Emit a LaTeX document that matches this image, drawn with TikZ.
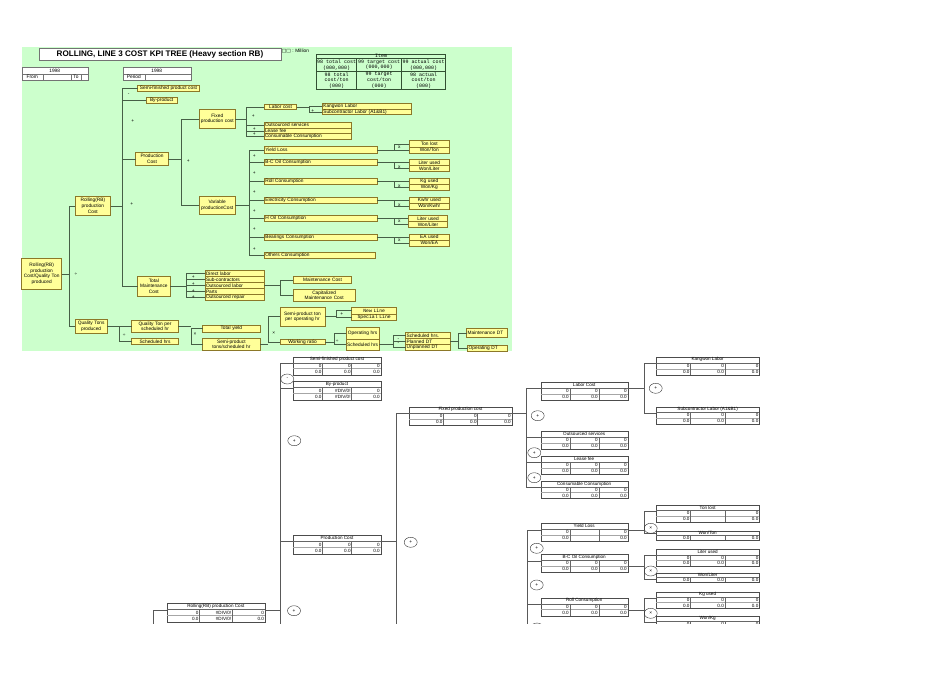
\documentclass[tikz,border=0pt]{standalone}
\usepackage{fontspec}
\setmainfont{Liberation Sans}
\newfontfamily\monof{Liberation Mono}
\newfontfamily\symf{DejaVu Sans}
\usetikzlibrary{shapes.geometric}
\definecolor{bggreen}{RGB}{204,255,204}
\definecolor{boxy}{RGB}{255,255,153}
\definecolor{boxb}{RGB}{140,120,40}
\definecolor{conn}{RGB}{70,95,70}
\definecolor{itemb}{RGB}{50,80,50}
\tikzset{
 ft/.style={font=\fontsize{4.8}{5.6}\selectfont},
 yb/.style={draw=boxb, fill=boxy, line width=0.5pt, inner ysep=0pt, inner xsep=1pt, outer sep=0pt, ft},
 cl/.style={draw=conn, line width=0.6pt},
 op/.style={inner sep=0pt, font=\fontsize{4.8}{5}\selectfont},
 wb/.style={draw=black!55, fill=white, line width=0.4pt, inner sep=0pt, outer sep=0pt, ft},
 ib/.style={draw=itemb, line width=0.5pt, inner sep=0pt, outer sep=0pt, align=center, font=\monof\fontsize{5}{5.6}\selectfont},
 tframe/.style={draw=black!70, line width=0.4pt, fill=white, inner sep=0pt, outer sep=0pt},
 tsep/.style={draw=black!60, line width=0.35pt},
 tsep2/.style={draw=black!35, line width=0.8pt},
 tv/.style={inner sep=0pt, font=\fontsize{4.6}{5}\selectfont},
 bl/.style={draw=black!65, line width=0.5pt},
 circ/.style={draw=black!80, ellipse, line width=0.4pt, minimum width=13pt, minimum height=10pt, inner sep=0pt, font=\fontsize{4.8}{5}\selectfont},
}
% yellow box: name, x1, y1, x2, y2, align, text
\newcommand\ybox[7]{%
 \pgfmathsetmacro\bw{#4-#2}\pgfmathsetmacro\bh{#5-#3}\pgfmathsetmacro\tw{#4-#2-2}%
 \node[yb, minimum width=\bw pt, minimum height=\bh pt, text width=\tw pt, align=#6] (#1) at ({(#2+#4)/2},{(#3+#5)/2}) {#7};}
% generic rectangle node: style, name, x1, y1, x2, y2, text
\newcommand\rbox[7]{%
 \pgfmathsetmacro\bw{#5-#3}\pgfmathsetmacro\bh{#6-#4}%
 \node[#1, minimum width=\bw pt, minimum height=\bh pt] (#2) at ({(#3+#5)/2},{(#4+#6)/2}) {#7};}
% table row values
\newcommand\trowh[7]{%
 \pgfmathsetmacro\cca{#2+(#3-#2)/3}\pgfmathsetmacro\ccb{#2+2*(#3-#2)/3}%
 \node[tv, anchor=east] (#1a) at ({\cca-0.8},{#4}) {#5};
 \node[tv, anchor=east] (#1b) at ({\ccb-0.8},{#4}) {#6};
 \node[tv, anchor=east] (#1c) at ({#3-0.8},{#4}) {#7};}
% table: name, x1, y1, x2, y2, title, row1, row2
\newcommand\tbl[8]{%
 \if\relax\detokenize{#8}\relax\def\nr{1}\else\def\nr{2}\fi
 \pgfmathsetmacro\rh{(#5-#3)/(\nr+1)}%
 \pgfmathsetmacro\ca{#2+(#4-#2)/3}\pgfmathsetmacro\cb{#2+2*(#4-#2)/3}%
 \pgfmathsetmacro\tw{#4-#2}\pgfmathsetmacro\th{#5-#3}%
 \node[tframe, minimum width=\tw pt, minimum height=\th pt] (#1) at ({(#2+#4)/2},{(#3+#5)/2}) {};
 \node[tv] (#1-t) at ({(#2+#4)/2},{#3+\rh/2}) {#6};
 \draw[tsep] (#2,{#3+\rh}) -- (#4,{#3+\rh});
 \ifnum\nr>1 \draw[tsep2] (#2,{#3+2*\rh}) -- (#4,{#3+2*\rh});\fi
 \draw[tsep] (\ca,{#3+\rh}) -- (\ca,#5) (\cb,{#3+\rh}) -- (\cb,#5);
 \coordinate (#1-w) at (#2,{#3+6.5});
 \coordinate (#1-e) at (#4,{#3+6.5});
 \trowh{#1-r1}{#2}{#4}{#3+1.5*\rh}#7
 \if\relax\detokenize{#8}\relax\else\trowh{#1-r2}{#2}{#4}{#3+2.5*\rh}#8\fi
}
\begin{document}
\begin{tikzpicture}[x=1pt,y=-1pt]
\useasboundingbox (0,0) rectangle (950,672);
\fill[white] (0,0) rectangle (950,672);
\fill[bggreen] (22,47) rectangle (512,351);

% ---------- header ----------
\rbox{wb}{title}{39.3}{48.5}{280.7}{60}{\fontsize{8.1}{9}\selectfont\bfseries ROLLING, LINE 3 COST KPI TREE (Heavy section RB)}
\node[op, anchor=west] (unit) at (281.7,51.3) {{\symf □□} : Million};

\rbox{wb}{da}{21.7}{66.7}{87.7}{74.5}{1998}
\rbox{wb}{dfrom}{21.7}{74.5}{42.7}{80}{From}
\rbox{wb}{dfv}{42.7}{74.5}{71}{80}{}
\rbox{wb}{dto}{71}{74.5}{81}{80}{To}
\rbox{wb}{dtv}{81}{74.5}{87.7}{80}{}
\rbox{wb}{pa}{122.7}{66.7}{190.7}{74.5}{1998}
\rbox{wb}{pper}{122.7}{74.5}{145}{80}{Period}
\rbox{wb}{ppv}{145}{74.5}{190.7}{80}{}

\rbox{ib}{item}{316.7}{54}{445.7}{58.3}{Item}
\rbox{ib}{i11}{316.7}{58.3}{356.7}{71.7}{98 total cost\\(000,000)}
\rbox{ib}{i12}{356.7}{58.3}{401.7}{71.7}{99 target cost\\(000,000)}
\rbox{ib}{i13}{401.7}{58.3}{445.7}{71.7}{99 actual cost\\(000,000)}
\rbox{ib}{i21}{316.7}{71.7}{356.7}{89}{98 total\\cost/ton\\(000)}
\rbox{ib}{i22}{356.7}{71.7}{401.7}{89}{99 target\\cost/ton\\(000)}
\rbox{ib}{i23}{401.7}{71.7}{445.7}{89}{98 actual\\cost/ton\\(000)}

% ---------- trunk coordinates ----------
\coordinate (T0) at (69.3,0);
\coordinate (T1) at (122.3,0);
\coordinate (T2) at (181,0);
\coordinate (T3) at (246,0);
\coordinate (T4) at (309,0);
\coordinate (T5) at (249.3,0);
\coordinate (TX) at (394,0);
\coordinate (T6) at (186.7,0);
\coordinate (T7) at (280,0);
\coordinate (T8) at (119.3,0);
\coordinate (T9) at (191,0);
\coordinate (T10) at (268.3,0);
\coordinate (T11) at (336.7,0);
\coordinate (T12) at (334.3,0);
\coordinate (T13) at (393.3,0);
\coordinate (T14) at (458.3,0);

% ---------- yellow boxes ----------
\ybox{root}{21.7}{258.3}{61.7}{289.3}{center}{Rolling(RB)\\production\\Cost/Quality Ton\\produced}
\ybox{rollc}{75}{196.7}{110.7}{215}{center}{Rolling(RB)\\production\\Cost}
\ybox{qtons}{75}{319.3}{107.3}{333.3}{center}{Quality Tons\\produced}
\ybox{sfpc}{137.7}{85}{199.3}{91}{center}{Semi-finished product cost}
\ybox{byp}{146}{97.7}{177.3}{103.3}{center}{By-product}
\ybox{prodc}{135.7}{152.7}{168.3}{165}{center}{Production\\Cost}
\ybox{tmc}{137.7}{276}{170}{296}{center}{Total\\Maintenance\\Cost}
\ybox{fixc}{199.3}{109.3}{235.3}{128.3}{center}{Fixed\\production cost}
\ybox{varc}{199.3}{196.7}{235}{214.3}{center}{Variable\\productionCost}
\ybox{labc}{264.3}{104.3}{296.7}{109.3}{center}{Labor cost}
\ybox{kang}{322.3}{103.7}{411}{109.2}{left}{Kangwon Labor}
\ybox{subl}{322.3}{109.2}{411}{114.7}{left}{Subcontractor Labor (A1\&B1)}
\ybox{outs}{264}{122.3}{351.3}{128}{left}{Outsourced services}
\ybox{lease}{264}{128}{351.3}{133.7}{left}{Lease fee}
\ybox{cons}{264}{133.7}{351.3}{139.3}{left}{Consumable Consumption}
\ybox{yld}{264.3}{146.7}{377.3}{153.3}{left}{Yield Loss}
\ybox{tonl}{409.3}{140.7}{449.3}{147}{center}{Ton lost}
\ybox{wton}{409.3}{147}{449.3}{153.3}{center}{Won/Ton}
\ybox{bco}{264.3}{159.3}{377.3}{165.7}{left}{B-C Oil Consumption}
\ybox{litu}{409.3}{159.3}{449.3}{165.5}{center}{Liter used}
\ybox{wlit}{409.3}{165.5}{449.3}{171.7}{center}{Won/Liter}
\ybox{roll}{264.3}{178.3}{377.3}{184.3}{left}{Roll Consumption}
\ybox{kgu}{409.3}{178.3}{449.3}{184.3}{center}{Kg used}
\ybox{wkg}{409.3}{184.3}{449.3}{190.3}{center}{Won/Kg}
\ybox{elec}{264.3}{197}{377.3}{203}{left}{Electricity Consumption}
\ybox{kwh}{409.3}{197}{449.3}{203}{center}{Kwhr used}
\ybox{wkwh}{409.3}{203}{449.3}{209}{center}{Won/Kwhr}
\ybox{hoil}{264.3}{215.7}{377.3}{221.7}{left}{H Oil Consumption}
\ybox{litu2}{408.3}{215.7}{447.7}{221.7}{center}{Liter used}
\ybox{wlit2}{408.3}{221.7}{447.7}{227.7}{center}{Won/Liter}
\ybox{bear}{264.3}{234}{377.3}{240}{left}{Bearings Consumption}
\ybox{eau}{409.3}{234}{449.3}{240}{center}{EA used}
\ybox{wea}{409.3}{240}{449.3}{246}{center}{Won/EA}
\ybox{oth}{264.3}{252.3}{375.7}{258.3}{left}{Others Consumption}
\ybox{m1}{205}{270.7}{264.3}{276.7}{left}{Direct labor}
\ybox{m2}{205}{276.7}{264.3}{282.7}{left}{Sub-contractors}
\ybox{m3}{205}{282.7}{264.3}{288.7}{left}{Outsourced labor}
\ybox{m4}{205}{288.7}{264.3}{294.7}{left}{Parts}
\ybox{m5}{205}{294.7}{264.3}{300.7}{left}{Outsourced repair}
\ybox{mc}{293.3}{276.7}{351.7}{283.3}{center}{Maintenance Cost}
\ybox{cmc}{293.3}{289.3}{355}{301}{center}{Capitalized\\Maintenance Cost}
\ybox{qtph}{131.7}{320}{178.3}{332.7}{center}{Quality Ton per\\scheduled hr}
\ybox{schh}{131.7}{338.3}{178.3}{344.3}{center}{Scheduled hrs}
\ybox{tyld}{202.7}{325.3}{260}{332}{center}{Total yield}
\ybox{spt}{202.7}{338.3}{260}{350}{center}{Semi-product\\tons/scheduled hr}
\ybox{spop}{280}{307.3}{325}{326}{center}{Semi-product ton\\per operating hr}
\ybox{wr}{280}{339.7}{325}{344.3}{center}{Working ratio}
\ybox{newl}{351.7}{307.7}{396.7}{313.8}{center}{\monof New Line}
\ybox{spel}{351.7}{313.8}{396.7}{320}{center}{\monof Special Line}
\ybox{oph}{346}{327.3}{379.3}{338.8}{center}{Operating hrs}
\ybox{sch2}{346}{338.8}{379.3}{350.3}{center}{Scheduled hrs}
\ybox{sch3}{405.7}{332.3}{450}{338.3}{left}{Scheduled hrs.}
\ybox{pdt}{405.7}{338.3}{450}{344.3}{left}{Planned DT}
\ybox{udt}{405.7}{344.3}{450}{350.3}{left}{Unplanned DT}
\ybox{mdt}{466.7}{328.3}{507}{337.7}{left}{Maintenance DT}
\ybox{odt}{467.7}{345}{507}{351.7}{left}{Operating DT}

% ---------- connectors (green tree) ----------
\draw[cl] (root.east) -- (root.east -| T0);
\draw[cl] (rollc.west) -- (rollc.west -| T0) -- (qtons.west -| T0) -- (qtons.west);

\draw[cl] (rollc.east) -- (rollc.east -| T1);
\draw[cl] (sfpc.west) -- (sfpc.west -| T1) -- (tmc.west -| T1) -- (tmc.west);
\draw[cl] (byp.west -| T1) -- (byp.west);
\draw[cl] (prodc.west -| T1) -- (prodc.west);

\draw[cl] (prodc.east) -- (prodc.east -| T2);
\draw[cl] (fixc.west) -- (fixc.west -| T2) -- (varc.west -| T2) -- (varc.west);

\draw[cl] (fixc.east) -- (fixc.east -| T3);
\draw[cl] (labc.west) -- (labc.west -| T3) -- (cons.west -| T3) -- (cons.west);
\draw[cl] (outs.west -| T3) -- (outs.west);
\draw[cl] (lease.west -| T3) -- (lease.west);

\draw[cl] (labc.east) -- (labc.east -| T4);
\draw[cl] (kang.west) -- (kang.west -| T4) -- (subl.west -| T4) -- (subl.west);

\draw[cl] (varc.east) -- (varc.east -| T5);
\draw[cl] (yld.west) -- (yld.west -| T5) -- (oth.west -| T5) -- (oth.west);
\foreach \c in {bco,roll,elec,hoil,bear} {\draw[cl] (\c.west -| T5) -- (\c.west);}

\foreach \p/\a/\b in {yld/tonl/wton, bco/litu/wlit, roll/kgu/wkg, elec/kwh/wkwh, hoil/litu2/wlit2, bear/eau/wea}
 {\draw[cl] (\p.east) -- (\p.east -| TX);
  \draw[cl] (\a.west) -- (\a.west -| TX) -- (\b.west -| TX) -- (\b.west);}

\draw[cl] (tmc.east) -- (tmc.east -| T6);
\draw[cl] (m1.west) -- (m1.west -| T6) -- (m5.west -| T6) -- (m5.west);
\foreach \c in {m2,m3,m4} {\draw[cl] (\c.west -| T6) -- (\c.west);}

\draw[cl] (m3.east) -- (m3.east -| T7);
\draw[cl] (mc.west) -- (mc.west -| T7) -- (cmc.west -| T7) -- (cmc.west);

\draw[cl] (qtons.east) -- (qtons.east -| T8);
\draw[cl] (qtph.west) -- (qtph.west -| T8) -- (schh.west -| T8) -- (schh.west);

\draw[cl] (qtph.east) -- (qtph.east -| T9);
\draw[cl] (tyld.west) -- (tyld.west -| T9) -- (spt.west -| T9) -- (spt.west);

\draw[cl] (spt.east) -- (spt.east -| T10);
\draw[cl] (spop.west) -- (spop.west -| T10) -- (wr.west -| T10) -- (wr.west);

\draw[cl] (spop.east) -- (spop.east -| T11);
\draw[cl] (newl.west) -- (newl.west -| T11) -- (spel.west -| T11) -- (spel.west);

\draw[cl] (wr.east) -- (wr.east -| T12);
\draw[cl] (oph.west) -- (oph.west -| T12) -- (sch2.west -| T12) -- (sch2.west);

\draw[cl] (sch2.east) -- (sch2.east -| T13);
\draw[cl] (sch3.west) -- (sch3.west -| T13) -- (udt.west -| T13) -- (udt.west);
\draw[cl] (pdt.west -| T13) -- (pdt.west);

\draw[cl] (pdt.east) -- (pdt.east -| T14);
\draw[cl] (mdt.west) -- (mdt.west -| T14) -- (odt.west -| T14) -- (odt.west);

% ---------- operators (green tree) ----------
\node[op] (o1) at (76,273.7) {÷};
\node[op] (o2) at (128.7,95) {-};
\node[op] (o3) at (132.7,121.3) {+};
\node[op] (o4) at (131.7,204) {+};
\node[op] (o5) at (188.3,161) {+};
\node[op] (o6) at (253.3,115.7) {+};
\node[op] (o7) at (254.3,129) {+};
\node[op] (o8) at (254.3,134.5) {+};
\node[op] (o9) at (312.7,111.3) {+};
\foreach \y [count=\i] in {156,173.3,192.3,210.7,229.3,249} {\node[op] (ov\i) at (254.3,\y) {+};}
\foreach \y [count=\i] in {147.7,167.5,186,205,221.7,240.7} {\node[op] (ox\i) at (399.3,\y) {x};}
\foreach \y [count=\i] in {277,283.7,290.7,296.7} {\node[op] (om\i) at (193.3,\y) {+};}
\node[op] (o10) at (124.3,335.3) {÷};
\node[op] (o11) at (195,334) {×};
\node[op] (o12) at (273.7,332.7) {×};
\node[op] (o13) at (341.7,314) {+};
\node[op] (o14) at (337.3,340.7) {÷};
\node[op] (o15) at (398.3,339.3) {-};
\node[op] (o16) at (398.3,344) {-};

% ---------- bottom tree (tables) ----------
\begin{scope}
\clip (0,352) rectangle (950,623);
\coordinate (B0) at (153.3,0);
\coordinate (B1) at (280.7,0);
\coordinate (B2) at (396,0);
\coordinate (B3) at (526.7,0);
\coordinate (B4) at (644.3,0);
\coordinate (B5) at (527.3,0);

\tbl{sf}{293.3}{356.7}{380.7}{374.7}{Semi-finished product cost}{{0}{0}{0}}{{0.0}{0.0}{0.0}}
\tbl{bp}{293.3}{381.3}{380.7}{400}{By-product}{{0}{\#DIV/0!}{0}}{{0.0}{\#DIV/0!}{0.0}}
\tbl{pc}{293.3}{535}{380.7}{554.3}{Production Cost}{{0}{0}{0}}{{0.0}{0.0}{0.0}}
\tbl{rc}{166.7}{603.3}{265}{622}{Rolling(RB) production Cost}{{0}{\#DIV/0!}{0}}{{0.0}{\#DIV/0!}{0.0}}
\tbl{fx}{409.3}{406.7}{511.7}{425}{Fixed production cost}{{0}{0}{0}}{{0.0}{0.0}{0.0}}
\tbl{lc}{540.7}{381.7}{627.7}{400}{Labor Cost}{{0}{0}{0}}{{0.0}{0.0}{0.0}}
\tbl{os}{540.7}{430.7}{627.7}{449.3}{Outsourced services}{{0}{0}{0}}{{0.0}{0.0}{0.0}}
\tbl{lf}{540.7}{455.7}{627.7}{474.3}{Lease fee}{{0}{0}{0}}{{0.0}{0.0}{0.0}}
\tbl{cc}{540.7}{481}{627.7}{498.3}{Consumable Consumption}{{0}{0}{0}}{{0.0}{0.0}{0.0}}
\tbl{kl}{656}{356.7}{759.3}{375}{Kangwon Labor}{{0}{0}{0}}{{0.0}{0.0}{0.0}}
\tbl{sl}{656}{406.7}{759.3}{424}{Subcontractor Labor (A1\&B1)}{{0}{0}{0}}{{0.0}{0.0}{0.0}}
\tbl{yl}{540.7}{523.3}{627.7}{541}{Yield Loss}{{0}{}{0}}{{0.0}{}{0.0}}
\tbl{tl}{656}{505}{759.3}{521.7}{Ton lost}{{0}{}{0}}{{0.0}{}{0.0}}
\tbl{wt}{656}{530.7}{759.3}{540}{Won/Ton}{{0.0}{}{0.0}}{}
\tbl{bc}{540.7}{554.3}{627.7}{572.3}{B-C Oil Consumption}{{0}{0}{0}}{{0.0}{0.0}{0.0}}
\tbl{lu}{656}{549}{759.3}{566}{Liter used}{{0}{0}{0}}{{0.0}{0.0}{0.0}}
\tbl{wl}{656}{572.7}{759.3}{582.3}{Won/Liter}{{0.0}{0.0}{0.0}}{}
\tbl{rl}{540.7}{597.7}{627.7}{615.7}{Roll Consumption}{{0}{0}{0}}{{0.0}{0.0}{0.0}}
\tbl{kg}{656}{591.7}{759.3}{608.3}{Kg used}{{0}{0}{0}}{{0.0}{0.0}{0.0}}
\tbl{wk}{656}{615.7}{759.3}{632}{Won/Kg}{{0}{0}{0}}{{0.0}{0.0}{0.0}}
\coordinate (bc-e2) at (627.7,566.7);
\coordinate (rl-e2) at (627.7,610);
\coordinate (wt-w2) at (656,533.3);

\draw[bl] (rc-w) -- (rc-w -| B0) -- ++(0,40);
\draw[bl] (rc-e) -- (rc-e -| B1);
\draw[bl] (sf-w) -- (sf-w -| B1) -- ++(0,300);
\draw[bl] (bp-w -| B1) -- (bp-w);
\draw[bl] (pc-w -| B1) -- (pc-w);
\draw[bl] (pc-e) -- (pc-e -| B2);
\draw[bl] (fx-w) -- (fx-w -| B2) -- ++(0,250);
\draw[bl] (fx-e) -- (fx-e -| B3);
\draw[bl] (lc-w) -- (lc-w -| B3) -- (cc-w -| B3) -- (cc-w);
\draw[bl] (os-w -| B3) -- (os-w);
\draw[bl] (lf-w -| B3) -- (lf-w);
\draw[bl] (lc-e) -- (lc-e -| B4);
\draw[bl] (kl-w) -- (kl-w -| B4) -- (sl-w -| B4) -- (sl-w);
\draw[bl] (yl-w) -- (yl-w -| B5) -- ++(0,120);
\draw[bl] (bc-w -| B5) -- (bc-w);
\draw[bl] (rl-w -| B5) -- (rl-w);
\draw[bl] (yl-e) -- (yl-e -| B4);
\draw[bl] (tl-w) -- (tl-w -| B4) -- (wt-w2 -| B4) -- (wt-w2);
\draw[bl] (bc-e2) -- (bc-e2 -| B4);
\draw[bl] (lu-w) -- (lu-w -| B4) -- (wl-w -| B4) -- (wl-w);
\draw[bl] (rl-e2) -- (rl-e2 -| B4);
\draw[bl] (kg-w) -- (kg-w -| B4) -- (wk-w -| B4) -- (wk-w);

\node[circ] (c1) at (287.3,379) {-};
\node[circ] (c2) at (294.3,440.7) {+};
\node[circ] (c3) at (294,610.7) {+};
\node[circ] (c4) at (410.7,542.3) {+};
\node[circ] (c5) at (537.7,415.7) {+};
\node[circ] (c6) at (534.3,452.7) {+};
\node[circ] (c7) at (534.3,477.7) {+};
\node[circ] (c8) at (655.7,388.3) {+};
\node[circ] (c9) at (650.7,528.3) {×};
\node[circ] (c10) at (650.7,571) {×};
\node[circ] (c11) at (650.7,613.3) {×};
\node[circ] (c12) at (536.7,548.3) {+};
\node[circ] (c13) at (536.7,585) {+};
\node[circ] (c14) at (537,628) {+};
\end{scope}
\end{tikzpicture}
\end{document}
